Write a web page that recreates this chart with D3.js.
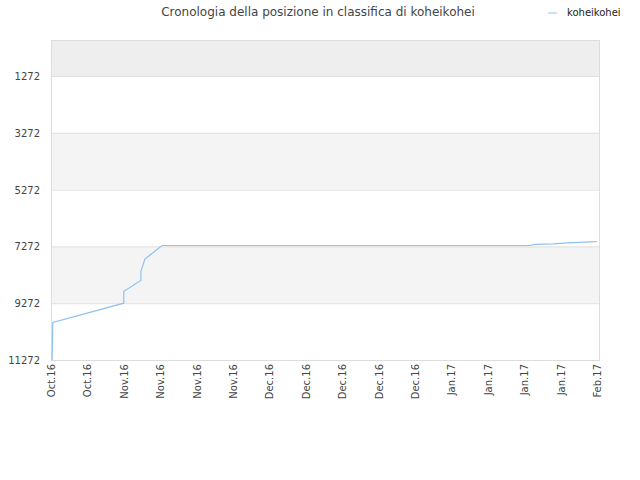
<!DOCTYPE html>
<html><head><meta charset="utf-8">
<script src="https://cdn.jsdelivr.net/npm/d3@7"></script>
<style>body{margin:0;background:#fff}</style></head>
<body><svg id="c" width="640" height="480"></svg>
<script>
const tickLabels=["Oct.16","Oct.16","Nov.16","Nov.16","Nov.16","Nov.16","Dec.16","Dec.16","Dec.16","Dec.16","Dec.16","Jan.17","Jan.17","Jan.17","Jan.17","Feb.17"];
const yTicks=[1272,3272,5272,7272,9272,11272];
const xPos=[0.03,0.05,2.0,2.0,2.47,2.47,2.58,3.05,13.15,13.3,13.8,14.2,14.8,15.0];
const ranks=[11272,9950,9272,8850,8470,8150,7720,7240,7240,7200,7180,7150,7110,7100];
const svg=d3.select("#c");
const L=51,R=600,T=40,B=360;
const y=d3.scaleLinear().domain([4,11272]).range([T,B]);
const x=d3.scaleLinear().domain([0,15]).range([L,597]);
const bands=[[4,1272,"#eeeeee"],[1272,3272,"#ffffff"],[3272,5272,"#f4f4f4"],[5272,7272,"#ffffff"],[7272,9272,"#f4f4f4"],[9272,11272,"#ffffff"]];
svg.selectAll("rect.b").data(bands).join("rect").attr("x",L).attr("width",R-L)
 .attr("y",d=>y(d[0])).attr("height",d=>y(d[1])-y(d[0])).attr("fill",d=>d[2]);
svg.selectAll("line.g").data(yTicks).join("line").attr("x1",L).attr("x2",R)
 .attr("y1",d=>y(d)+0.5).attr("y2",d=>y(d)+0.5).attr("stroke","#e0e0e0");
svg.append("rect").attr("x",L+0.5).attr("y",T+0.5).attr("width",R-L-1).attr("height",B-T).attr("fill","none").attr("stroke","#dddddd");
svg.selectAll("text.y").data(yTicks).join("text").attr("x",L-11).attr("y",d=>y(d)+4)
 .attr("text-anchor","end").attr("font-family","DejaVu Sans").attr("font-size",10).attr("fill","#444").text(d=>d);
svg.selectAll("text.x").data(tickLabels).join("text")
 .attr("transform",(d,i)=>`translate(${x(i)+4},${B+4}) rotate(-90)`)
 .attr("text-anchor","end").attr("font-family","DejaVu Sans").attr("font-size",10).attr("fill","#444").text(d=>d);
svg.append("path").datum(xPos.map((v,i)=>[v,ranks[i]]))
 .attr("d",d3.line().x(d=>x(d[0])).y(d=>y(d[1]))).attr("fill","none").attr("stroke","#90c0f0").attr("stroke-width",1.2);
svg.append("text").attr("x",318).attr("y",16).attr("text-anchor","middle").attr("font-family","DejaVu Sans").attr("font-size",12).attr("fill","#444")
 .text("Cronologia della posizione in classifica di koheikohei");
svg.append("line").attr("x1",548).attr("x2",557).attr("y1",13).attr("y2",13).attr("stroke","#90c0f0");
svg.append("text").attr("x",567).attr("y",16).attr("font-family","DejaVu Sans").attr("font-size",10).attr("fill","#222").text("koheikohei");
</script></body></html>
